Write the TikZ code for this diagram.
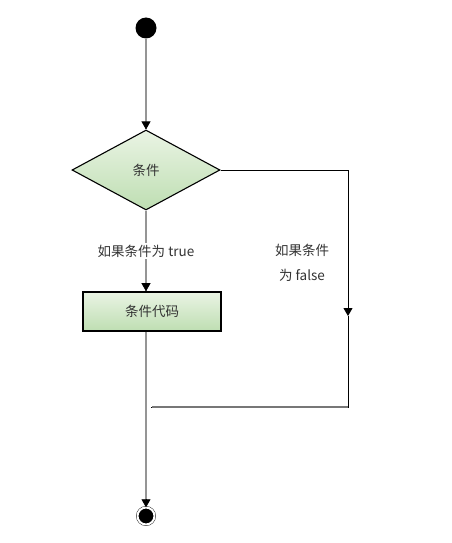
\documentclass[tikz,border=0pt]{standalone}
\usepackage{fontspec}
\setmainfont{Noto Sans CJK SC}
\usepackage{xcolor}
\usetikzlibrary{shapes.geometric,arrows.meta,positioning}

\definecolor{boxtop}{HTML}{EAF4E4}
\definecolor{boxbot}{HTML}{BEDEB2}
\definecolor{flowgray}{HTML}{959595}
\definecolor{txtgray}{HTML}{333333}

\begin{document}
\begin{tikzpicture}[x=1pt, y=-1pt,
    font=\fontsize{13.5}{16}\selectfont,
    startdot/.style={circle, fill=black, inner sep=0pt, minimum size=21pt},
    enddot/.style={circle, fill=black, draw=black, double=white, double distance=2pt, inner sep=0pt, minimum size=17pt},
    cond/.style={diamond, draw=black, line width=1.1pt, top color=boxtop, bottom color=boxbot, aspect=1.85, minimum width=148pt, minimum height=80pt, inner sep=0pt, text=txtgray},
    codebox/.style={draw=black, line width=1.6pt, top color=boxtop, bottom color=boxbot, minimum width=138pt, minimum height=39pt, text=txtgray},
    lbl/.style={fill=white, align=center, inner sep=2pt, text=txtgray},
    arr/.style={-{Triangle[length=8pt, width=9pt]}},
    tip/.style={arr, draw=black, line width=0.6pt},
    grayline/.style={draw=flowgray, line width=2.4pt}
]
    \useasboundingbox (0,0) rectangle (451,543);

    \node[startdot] (start) at (146,28) {};
    \node[cond] (check) at (146,170) {条件};
    \node[codebox] (body) at (152,311.5) {条件代码};
    \node[enddot] (stop) at (146,516) {};
    \coordinate (bodyin) at (check.south |- body.north);
    \coordinate (bodyout) at (check.south |- body.south);
    \coordinate (falsemid) at (348,316);
    \coordinate (merge) at (152,407);

    % main flow (gray lines, black tips on top)
    \draw[grayline] (start) -- (check.north);
    \draw[grayline] (check.south) -- (bodyin)
        node[lbl, pos=0.5] (truelbl) {如果条件为 true};
    \draw[grayline] (bodyout) -- (stop);
    \draw[tip] ([yshift=3pt]check.north) -- (check.north);
    \draw[tip] ([yshift=3pt]bodyin) -- (bodyin);
    \draw[tip] ([yshift=3pt]stop.north) -- (stop.north);

    % false branch
    \draw[black, line width=0.8pt, arr] (check.east) -| (falsemid);
    \draw[black, line width=0.8pt] (falsemid) |- ([xshift=-1pt]merge);
    \draw[flowgray!80!black, line width=1.4pt] (falsemid |- merge) -- (merge);
    \node[lbl] (falselbl) at (302,263) {如果条件\\[9pt]为 false};
\end{tikzpicture}
\end{document}
